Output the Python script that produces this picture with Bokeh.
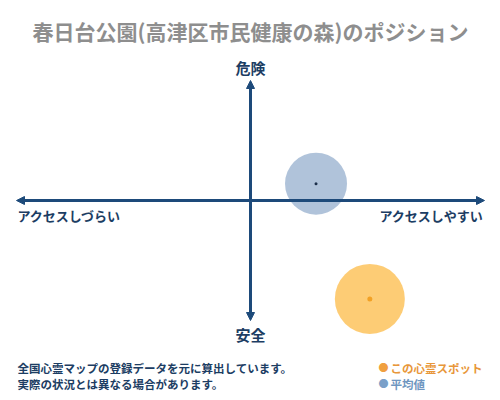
from bokeh.plotting import figure
from bokeh.models import Range1d, Arrow, NormalHead, Label, ColumnDataSource
from bokeh.embed import file_html
from bokeh.resources import INLINE

# --- data ---
title_text = "春日台公園(高津区市民健康の森)のポジション"
x_labels = ["アクセスしづらい", "アクセスしやすい"]
y_labels = ["危険", "安全"]
series_names = ["この心霊スポット", "平均値"]
series_x = [0.51, 0.28]
series_y = [-0.82, 0.14]
series_size = [70, 62]
series_color = ["#fdc766", "#a7bcd6"]
dot_color = ["#f2a125", "#1c2f4a"]
dot_size = [5, 3]
notes = ["全国心霊マップの登録データを元に算出しています。", "実際の状況とは異なる場合があります。"]

FONT = "Noto Sans CJK JP"
AXIS_C = "#1d4a7a"
TEXT_C = "#1c3d63"
W, H = 500, 400

p = figure(width=W, height=H, output_backend="svg", toolbar_location=None,
           x_range=Range1d(-250/234, 250/234), y_range=Range1d(-200/120, 200/120),
           min_border=0, background_fill_color="white", border_fill_color="white")
p.axis.visible = False
p.grid.visible = False
p.outline_line_color = None

for (x0, y0, x1, y1) in [(-1, 0, 1, 0), (0, -1, 0, 1)]:
    p.add_layout(Arrow(x_start=x0, y_start=y0, x_end=x1, y_end=y1,
                       line_color=AXIS_C, line_width=3,
                       start=NormalHead(size=8, fill_color=AXIS_C, line_color=AXIS_C),
                       end=NormalHead(size=8, fill_color=AXIS_C, line_color=AXIS_C)))

src = ColumnDataSource(dict(x=series_x, y=series_y, s=series_size, c=series_color,
                            d=dot_color, ds=dot_size))
p.scatter("x", "y", size="s", fill_color="c", line_color=None, fill_alpha=0.9, source=src)
p.scatter("x", "y", size="ds", fill_color="d", line_color=None, source=src)

def lab(x, y, t, size, color, align="left", base="middle", style="bold"):
    p.add_layout(Label(x=x, y=H - y, x_units="screen", y_units="screen", text=t, text_font=FONT,
                       text_font_size=f"{size}px", text_color=color, text_align=align,
                       text_baseline=base, text_font_style=style))

lab(250, 30, title_text, 21, "#8e8e8e", align="center")
lab(250, 67, y_labels[0], 15, TEXT_C, align="center")
lab(250, 334, y_labels[1], 15, TEXT_C, align="center")
lab(17, 215, x_labels[0], 13, TEXT_C, align="left")
lab(483, 215, x_labels[1], 13, TEXT_C, align="right")
lab(17, 367, notes[0], 11.5, TEXT_C)
lab(17, 383, notes[1], 11.5, TEXT_C)

leg_c = ["#e8973a", "#6f96c0"]
leg_dot = ["#f0a040", "#7aa0c8"]
for i, (n, tc) in enumerate(zip(series_names, leg_c)):
    yy = 367 + 16 * i
    p.add_layout(Label(x=383, y=H - yy, x_units="screen", y_units="screen", text="●",
                       text_font=FONT, text_font_size="10px", text_color=leg_dot[i],
                       text_align="center", text_baseline="middle"))
    lab(390, yy, n, 11.5, tc, style="bold")

open("out.html", "w").write(file_html(p, INLINE))
